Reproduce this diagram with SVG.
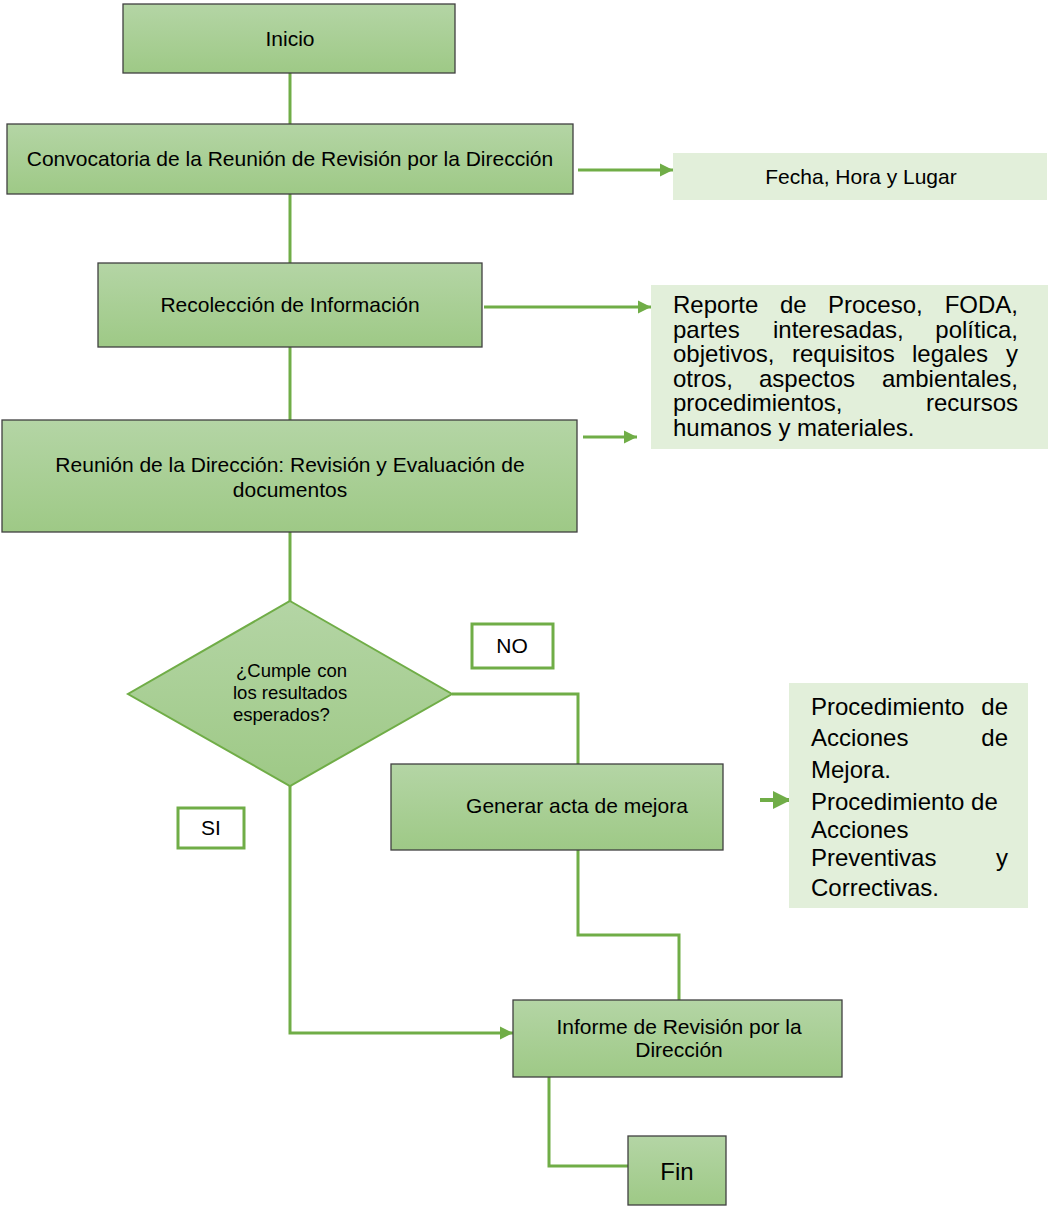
<svg xmlns="http://www.w3.org/2000/svg" width="1049" height="1231" viewBox="0 0 1049 1231">
  <defs>
    <linearGradient id="boxFill" x1="0" y1="0" x2="0" y2="1">
      <stop offset="0" stop-color="#b4d5a5"/>
      <stop offset="1" stop-color="#9ec986"/>
    </linearGradient>
    <marker id="arrow" viewBox="0 0 10 10" refX="10" refY="5" markerWidth="4.5" markerHeight="4.5" markerUnits="strokeWidth" orient="auto">
      <path d="M0,0 L10,5 L0,10 z" fill="#70ad47"/>
    </marker>
    <style>
      .step { fill: url(#boxFill); stroke: #404040; stroke-width: 1.3; }
      .note { fill: #e2efda; stroke: none; }
      .tag { fill: #ffffff; stroke: #70ad47; stroke-width: 3; }
      .decision { fill: url(#boxFill); stroke: #70ad47; stroke-width: 2; }
      .wire { fill: none; stroke: #70ad47; stroke-width: 3; }
      .arrowed { marker-end: url(#arrow); }
      text { font-family: "Liberation Sans", Arial, sans-serif; fill: #000000; }
      .t21 { font-size: 21px; }
      .t24 { font-size: 24px; }
      .t18 { font-size: 18.5px; }
      .mid { text-anchor: middle; }
      .end { text-anchor: end; }
    </style>
  </defs>

  <rect width="1049" height="1231" fill="#ffffff"/>

  <!-- connectors -->
  <g id="connectors">
    <polyline class="wire" points="290,73 290,124"/>
    <polyline class="wire" points="290,194 290,263"/>
    <polyline class="wire" points="290,347 290,420"/>
    <polyline class="wire" points="290,532 290,601"/>
    <line class="wire arrowed" x1="578" y1="170" x2="673" y2="170"/>
    <line class="wire arrowed" x1="484" y1="307" x2="651" y2="307"/>
    <line class="wire arrowed" x1="583" y1="437" x2="637" y2="437"/>
    <polyline class="wire" points="452,694 578,694 578,764"/>
    <line class="wire arrowed" x1="760" y1="800" x2="791" y2="800" style="stroke-width:4"/>
    <polyline class="wire" points="578,850 578,935 679,935 679,1000"/>
    <polyline class="wire arrowed" points="290,786 290,1033 513,1033"/>
    <polyline class="wire" points="549,1077 549,1166 628,1166"/>
  </g>

  <g id="inicio">
    <rect class="step" x="123" y="4" width="332" height="69"/>
    <text class="t21 mid" x="290" y="46">Inicio</text>
  </g>

  <g id="convocatoria">
    <rect class="step" x="7" y="124" width="566" height="70"/>
    <text class="t21 mid" x="290" y="166">Convocatoria de la Reunión de Revisión por la Dirección</text>
  </g>

  <g id="fecha">
    <rect class="note" x="673" y="153" width="374" height="47"/>
    <text class="t21 mid" x="861" y="184">Fecha, Hora y Lugar</text>
  </g>

  <g id="recoleccion">
    <rect class="step" x="98" y="263" width="384" height="84"/>
    <text class="t21 mid" x="290" y="312">Recolección de Información</text>
  </g>

  <!-- justified paragraph: words placed one by one -->
  <g id="reporte">
    <rect class="note" x="651" y="285" width="397" height="164"/>
    <text class="t24" x="673" y="313">Reporte</text>
    <text class="t24" x="780" y="313">de</text>
    <text class="t24" x="828" y="313">Proceso,</text>
    <text class="t24 end" x="1018" y="313">FODA,</text>
    <text class="t24" x="673" y="337.5">partes</text>
    <text class="t24" x="773" y="337.5">interesadas,</text>
    <text class="t24 end" x="1018" y="337.5">política,</text>
    <text class="t24" x="673" y="362">objetivos,</text>
    <text class="t24" x="792" y="362">requisitos</text>
    <text class="t24" x="912" y="362">legales</text>
    <text class="t24 end" x="1018" y="362">y</text>
    <text class="t24" x="673" y="386.5">otros,</text>
    <text class="t24" x="759" y="386.5">aspectos</text>
    <text class="t24 end" x="1018" y="386.5">ambientales,</text>
    <text class="t24" x="673" y="411">procedimientos,</text>
    <text class="t24 end" x="1018" y="411">recursos</text>
    <text class="t24" x="673" y="435.5">humanos y materiales.</text>
  </g>

  <g id="reunion">
    <rect class="step" x="2" y="420" width="575" height="112"/>
    <text class="t21 mid" x="290" y="472">Reunión de la Dirección: Revisión y Evaluación de</text>
    <text class="t21 mid" x="290" y="497">documentos</text>
  </g>

  <g id="decision">
    <polygon class="decision" points="290,601 452,694 290,786 128,694"/>
    <text class="t18" x="236" y="677">¿Cumple</text>
    <text class="t18 end" x="347" y="677">con</text>
    <text class="t18" x="233" y="699">los resultados</text>
    <text class="t18" x="233" y="721">esperados?</text>
  </g>

  <g id="label-no">
    <rect class="tag" x="472" y="624" width="81" height="44"/>
    <text class="t21 mid" x="512" y="653">NO</text>
  </g>

  <g id="generar">
    <rect class="step" x="391" y="764" width="332" height="86"/>
    <text class="t21 mid" x="577" y="813">Generar acta de mejora</text>
  </g>

  <g id="procedimientos">
    <rect class="note" x="789" y="683" width="239" height="225"/>
    <text class="t24" x="811" y="715">Procedimiento</text>
    <text class="t24 end" x="1008" y="715">de</text>
    <text class="t24" x="811" y="746">Acciones</text>
    <text class="t24 end" x="1008" y="746">de</text>
    <text class="t24" x="811" y="778">Mejora.</text>
    <text class="t24" x="811" y="810">Procedimiento de</text>
    <text class="t24" x="811" y="838">Acciones</text>
    <text class="t24" x="811" y="866">Preventivas</text>
    <text class="t24 end" x="1008" y="866">y</text>
    <text class="t24" x="811" y="896">Correctivas.</text>
  </g>

  <g id="label-si">
    <rect class="tag" x="178" y="808" width="66" height="40"/>
    <text class="t21 mid" x="211" y="835">SI</text>
  </g>

  <g id="informe">
    <rect class="step" x="513" y="1000" width="329" height="77"/>
    <text class="t21 mid" x="679" y="1034">Informe de Revisión por la</text>
    <text class="t21 mid" x="679" y="1057">Dirección</text>
  </g>

  <g id="fin">
    <rect class="step" x="628" y="1136" width="98" height="69"/>
    <text class="t24 mid" x="677" y="1180">Fin</text>
  </g>
</svg>
